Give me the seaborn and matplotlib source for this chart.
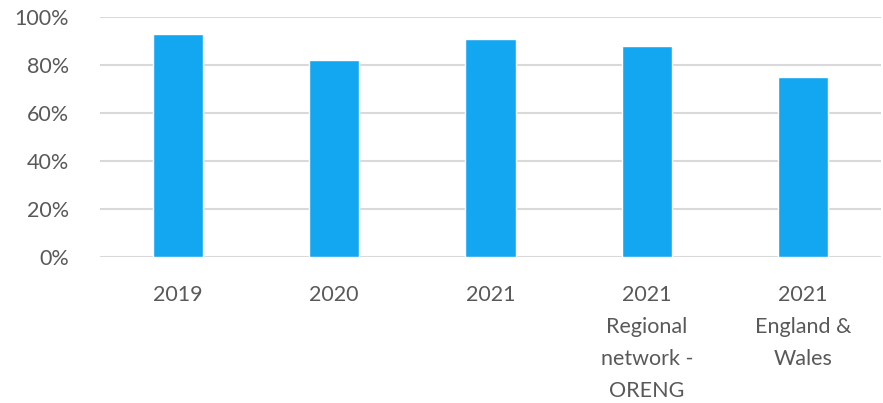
import pandas as pd
import numpy as np
import matplotlib
matplotlib.use("Agg")
import matplotlib.pyplot as plt
import seaborn as sns
from matplotlib.ticker import PercentFormatter

categories = ["2019", "2020", "2021", "2021\nRegional\nnetwork -\nORENG", "2021\nEngland &\nWales"]
values = [0.93, 0.82, 0.91, 0.88, 0.75]
yticks = [0, 0.2, 0.4, 0.6, 0.8, 1.0]

df = pd.DataFrame({"category": categories, "value": values})

sns.set_theme(style="white")
plt.rcParams['font.family'] = ['Lato', 'DejaVu Sans']

fig = plt.figure(figsize=(8.83, 4.03), dpi=100)
ax = fig.add_axes([0.113, 0.362, 0.885, 0.596])

sns.barplot(data=df, x="category", y="value", color="#13A7F2", saturation=1,
            width=0.32, ax=ax, zorder=3)

ax.set_ylim(0, 1.0)
ax.set_yticks(yticks)
ax.yaxis.set_major_formatter(PercentFormatter(1.0, decimals=0))
ax.grid(True, axis='y', color="#D9D9D9", linewidth=1.5, zorder=0)
ax.set_axisbelow(True)
for s in ax.spines.values():
    s.set_visible(False)
ax.set_xlabel("")
ax.set_ylabel("")
ax.tick_params(axis='y', labelsize=15.5, labelcolor="#595959", length=0, pad=22)
ax.tick_params(axis='x', labelsize=15.5, labelcolor="#595959", length=0, pad=20)
for lbl in ax.get_xticklabels():
    lbl.set_linespacing(1.75)
    lbl.set_verticalalignment('top')

fig.savefig("out.png", dpi=100)
plt.close()
